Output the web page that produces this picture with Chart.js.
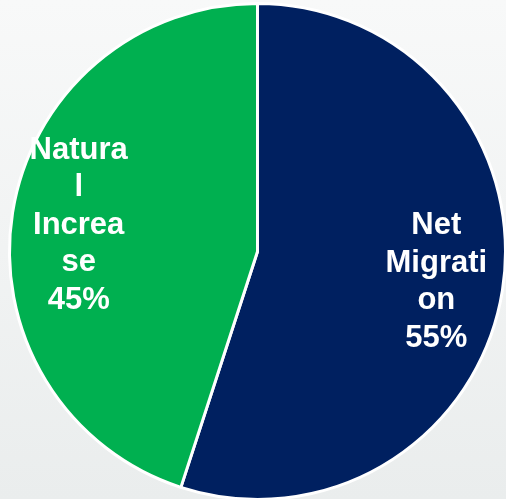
<!DOCTYPE html>
<html>
<head>
<meta charset="utf-8">
<script src="https://cdn.jsdelivr.net/npm/chart.js@4.4.0/dist/chart.umd.min.js"></script>
<style>
  html, body { margin: 0; padding: 0; }
  body { width: 506px; height: 499px; background: linear-gradient(to bottom, #f8f9f9 0%, #eaeded 100%); overflow: hidden; }
  #wrap { position: relative; width: 506px; height: 499px; overflow: hidden; }
  canvas { position: absolute; left: 0; top: 0; }
</style>
</head>
<body>
<div id="wrap"><canvas id="c" width="508" height="503"></canvas></div>
<script>
const categories = ["Net Migration", "Natural Increase"];
const values = [55, 45];
const colors = ["#002060", "#00b050"];
// wrapped label lines as shown in the reference
const labelLines = [["Net", "Migrati", "on"], ["Natura", "l", "Increa", "se"]];

const labelPlugin = {
  id: 'sliceLabels',
  afterDatasetsDraw(chart) {
    const ctx = chart.ctx;
    const meta = chart.getDatasetMeta(0);
    const total = values.reduce((a, b) => a + b, 0);
    ctx.save();
    ctx.fillStyle = '#ffffff';
    ctx.font = 'bold 31px "Liberation Sans", Arial, sans-serif';
    ctx.textAlign = 'center';
    ctx.textBaseline = 'middle';
    const lh = 37.5;
    meta.data.forEach((arc, i) => {
      const p = arc.getProps(['x', 'y', 'startAngle', 'endAngle', 'outerRadius'], true);
      const mid = (p.startAngle + p.endAngle) / 2;
      const r = p.outerRadius * 0.73;
      const cx = p.x + Math.cos(mid) * r;
      const cy = p.y + Math.sin(mid) * r + 2;
      const lines = labelLines[i].concat([Math.round(values[i] / total * 100) + '%']);
      const startY = cy - (lines.length - 1) * lh / 2;
      lines.forEach((t, k) => ctx.fillText(t, cx, startY + k * lh));
    });
    ctx.restore();
  }
};

new Chart(document.getElementById('c'), {
  type: 'pie',
  data: {
    labels: categories,
    datasets: [{
      data: values,
      backgroundColor: colors,
      borderColor: '#ffffff',
      borderWidth: 3
    }]
  },
  options: {
    responsive: false,
    animation: false,
    layout: { padding: { left: 8, right: 1, top: 2, bottom: 2 } },
    plugins: {
      legend: { display: false },
      tooltip: { enabled: false }
    }
  },
  plugins: [labelPlugin]
});
</script>
</body>
</html>
